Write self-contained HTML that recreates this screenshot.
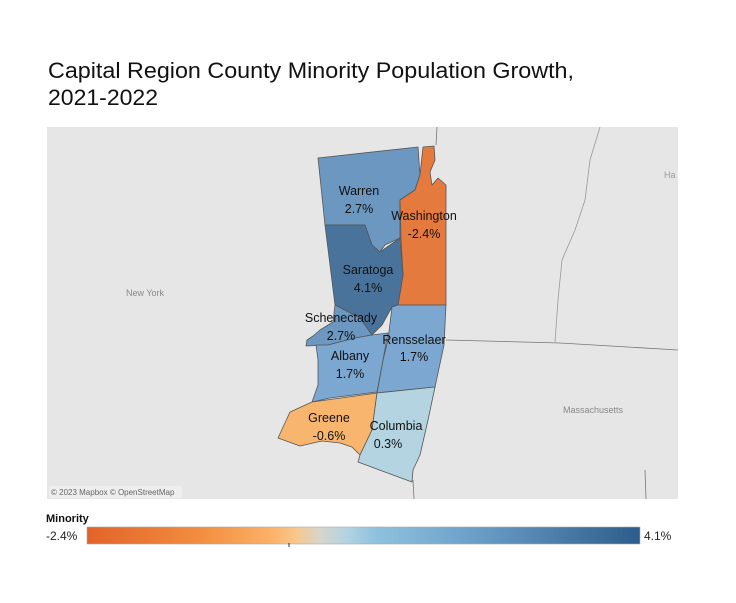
<!DOCTYPE html>
<html><head><style>
html,body{margin:0;padding:0;background:#fff;}
svg{display:block;font-family:"Liberation Sans",sans-serif;}
</style></head><body>
<svg width="736" height="603" viewBox="0 0 736 603">
<defs>
<linearGradient id="g" x1="0" x2="1" y1="0" y2="0">
<stop offset="0" stop-color="#e2632a"/>
<stop offset="0.2" stop-color="#f28c3f"/>
<stop offset="0.33" stop-color="#fbb066"/>
<stop offset="0.38" stop-color="#f7c88e"/>
<stop offset="0.42" stop-color="#d8d5cc"/>
<stop offset="0.47" stop-color="#b3d3e2"/>
<stop offset="0.52" stop-color="#90c2df"/>
<stop offset="0.7" stop-color="#6b9fc8"/>
<stop offset="1" stop-color="#2d5c8b"/>
</linearGradient>
</defs>
<text x="48" y="78" font-size="22" fill="#111" textLength="526" lengthAdjust="spacingAndGlyphs">Capital Region County Minority Population Growth,</text>
<text x="48" y="105" font-size="22" fill="#111" textLength="110" lengthAdjust="spacingAndGlyphs">2021-2022</text>
<rect x="47" y="127" width="631" height="372" fill="#e6e6e6"/>
<g fill="none" stroke="#777" stroke-width="0.8">
<path d="M437 127 L436 145"/>
<path d="M446 340 L560 343 L678 350"/>
<path d="M413 480 L414 499"/>
<path d="M645 470 L646 499"/>
<path d="M600 127 L590 160 L585 200 L575 230 L562 260 L558 300 L555 342" stroke="#999"/>
</g>
<text x="126" y="296" font-size="9" fill="#888">New York</text>
<text x="563" y="413" font-size="9" fill="#888">Massachusetts</text>
<text x="664" y="178" font-size="9" fill="#999">Ha</text>
<g stroke="#555" stroke-width="0.8" stroke-linejoin="round">
<polygon fill="#6b97c0" points="318,158 418,147 420,175 415,190 400,200 400,238 385,245 380,252 372,245 365,225 325,225"/>
<polygon fill="#e47a3d" points="423,147 434,146 435,160 430,172 432,185 438,178 446,185 446,305 398,305 403,275 401,240 400,200 415,190 420,175"/>
<polygon fill="#4a739c" points="325,225 365,225 372,245 380,252 400,238 403,275 398,305 392,307 382,325 372,335 360,318 335,305"/>
<polygon fill="#6b97c0" points="335,305 360,318 372,335 355,338 328,345 306,346 307,340 313,336 320,330 333,322"/>
<polygon fill="#7ba7d1" points="392,307 398,305 446,305 444,345 435,387 377,393 383,360 388,340"/>
<polygon fill="#7ba7d1" points="328,345 355,338 372,335 388,333 383,360 377,392 330,398 312,402 318,385 318,360 316,345"/>
<polygon fill="#f7b56e" points="312,402 377,393 372,430 360,455 352,447 340,443 322,441 300,446 278,438 290,412"/>
<polygon fill="#b4d4e2" points="377,393 435,387 428,420 420,455 413,470 412,482 358,462 360,455 372,430"/>
</g>
<g font-size="12.5" fill="#111" text-anchor="middle">
<text x="359" y="195">Warren</text><text x="359" y="213">2.7%</text>
<text x="424" y="220">Washington</text><text x="424" y="238">-2.4%</text>
<text x="368" y="274">Saratoga</text><text x="368" y="292">4.1%</text>
<text x="341" y="322">Schenectady</text><text x="341" y="340">2.7%</text>
<text x="414" y="344">Rensselaer</text><text x="414" y="361">1.7%</text>
<text x="350" y="360">Albany</text><text x="350" y="378">1.7%</text>
<text x="329" y="422">Greene</text><text x="329" y="440">-0.6%</text>
<text x="396" y="430">Columbia</text><text x="388" y="448">0.3%</text>
</g>
<rect x="49" y="486" width="133" height="12" fill="#eee" opacity="0.9"/>
<text x="51" y="495" font-size="8" fill="#666">© 2023 Mapbox © OpenStreetMap</text>
<text x="46" y="522" font-size="11" font-weight="bold" fill="#111">Minority</text>
<rect x="87" y="527" width="553" height="17" fill="url(#g)" stroke="#aaa" stroke-width="0.6"/>
<line x1="289" y1="543" x2="289" y2="547" stroke="#333" stroke-width="1"/>
<text x="46" y="540" font-size="12" fill="#222">-2.4%</text>
<text x="644" y="540" font-size="12" fill="#222">4.1%</text>
</svg>
</body></html>
